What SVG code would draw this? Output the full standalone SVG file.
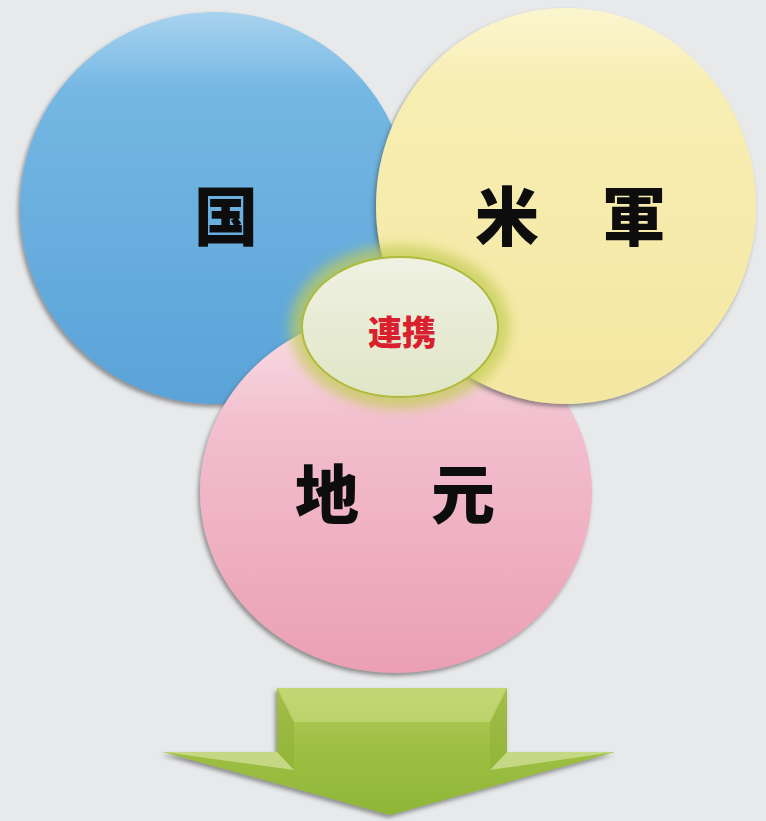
<svg xmlns="http://www.w3.org/2000/svg" width="766" height="821" viewBox="0 0 766 821">
<defs>
<style>
.big{font-family:"Noto Sans CJK JP","Noto Sans CJK SC",sans-serif;font-weight:900;font-size:64px;fill:#111;text-anchor:middle;dominant-baseline:central}
.red{font-family:"Noto Sans CJK JP","Noto Sans CJK SC",sans-serif;font-weight:900;font-size:34px;fill:#d8202e;text-anchor:middle;dominant-baseline:central}
</style>
<linearGradient id="gBlue" x1="0" y1="0" x2="0" y2="1">
<stop offset="0" stop-color="#a8d3ee"/><stop offset="0.2" stop-color="#74b7e3"/><stop offset="1" stop-color="#5aa3d8"/>
</linearGradient>
<linearGradient id="gYel" x1="0" y1="0" x2="0" y2="1">
<stop offset="0" stop-color="#fbf5cf"/><stop offset="0.2" stop-color="#f7eeb2"/><stop offset="1" stop-color="#f4e7a2"/>
</linearGradient>
<linearGradient id="gPink" x1="0" y1="0" x2="0" y2="1">
<stop offset="0" stop-color="#f9e0e8"/><stop offset="0.3" stop-color="#f2c0cf"/><stop offset="1" stop-color="#eb9fb4"/>
</linearGradient>
<linearGradient id="gSmall" x1="0" y1="0" x2="0" y2="1">
<stop offset="0" stop-color="#eff1e3"/><stop offset="1" stop-color="#e0e6c6"/>
</linearGradient>
<linearGradient id="gArrow" x1="0" y1="0" x2="0" y2="1">
<stop offset="0" stop-color="#b9cf62"/><stop offset="0.4" stop-color="#a0c046"/><stop offset="1" stop-color="#8fb637"/>
</linearGradient>
<filter id="sh" x="-10%" y="-10%" width="120%" height="120%">
<feDropShadow dx="-2" dy="3" stdDeviation="2" flood-color="#444" flood-opacity="0.55"/>
</filter>
<filter id="blur" x="-20%" y="-20%" width="140%" height="140%"><feGaussianBlur stdDeviation="6"/></filter>
</defs>
<rect width="766" height="821" fill="#e8e9eb"/>
<g id="node-kuni" filter="url(#sh)">
<ellipse cx="215" cy="208" rx="195" ry="196" fill="url(#gBlue)"/>
<text class="big" x="226" y="212">国</text>
</g>
<g id="node-jimoto" filter="url(#sh)">
<ellipse cx="396" cy="492" rx="196" ry="181" fill="url(#gPink)"/>
<text class="big" x="327" y="490">地</text>
<text class="big" x="463" y="490">元</text>
</g>
<g id="node-beigun" filter="url(#sh)">
<ellipse cx="566" cy="206" rx="190" ry="198" fill="url(#gYel)"/>
<text class="big" x="507" y="212">米</text>
<text class="big" x="634" y="212">軍</text>
</g>
<g id="node-renkei">
<ellipse cx="400" cy="327" rx="110" ry="82" fill="#c2cc52" opacity="0.7" filter="url(#blur)"/>
<ellipse cx="400" cy="327" rx="98" ry="70" fill="url(#gSmall)" stroke="#aebb3c" stroke-width="2"/>
<text class="red" x="402" y="330">連携</text>
</g>
<g id="arrow">
<polygon points="277,688 507,688 507,752 615,752 390,815 163,752 277,752" fill="url(#gArrow)" filter="url(#sh)"/>
<polygon points="277,688 507,688 490,722 294,722" fill="#c9da7e" opacity="0.6"/>
<polygon points="277,688 294,722 294,770 277,752" fill="#8fae36" opacity="0.5"/>
<polygon points="507,688 490,722 490,770 507,752" fill="#8fae36" opacity="0.5"/>
<polygon points="163,752 277,752 294,770" fill="#d6e3a0" opacity="0.7"/>
<polygon points="615,752 507,752 490,770" fill="#d6e3a0" opacity="0.7"/>
</g>
</svg>
